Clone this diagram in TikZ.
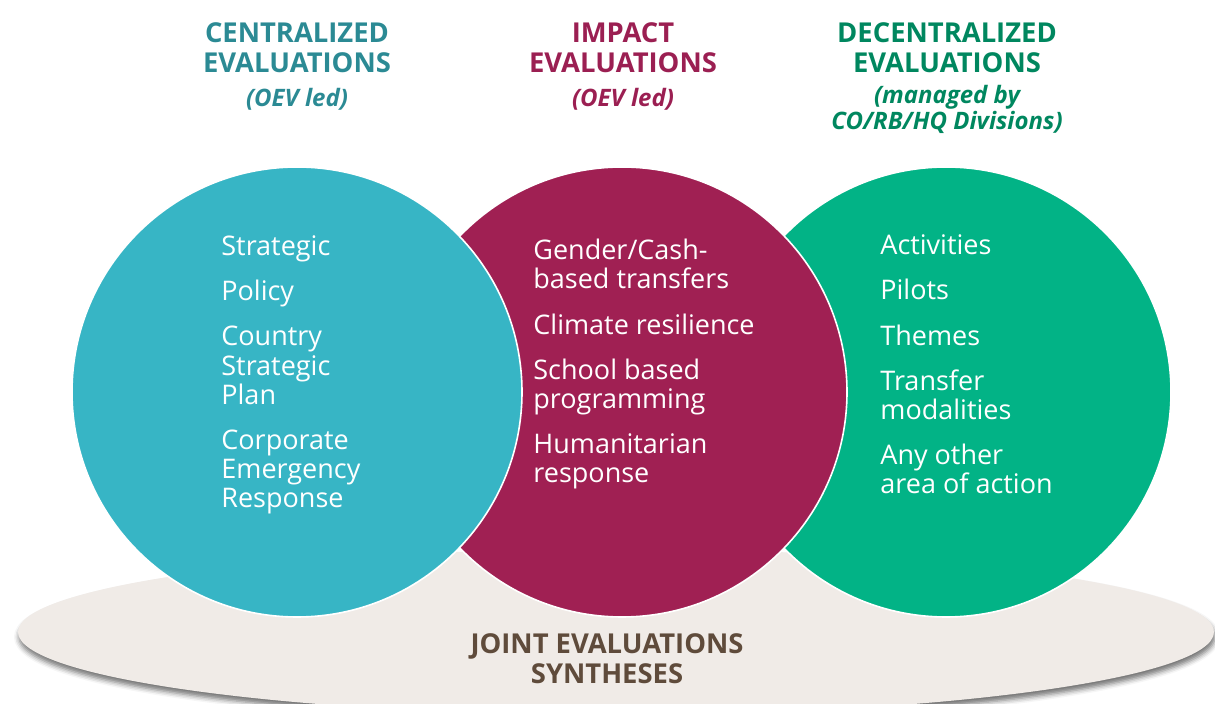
\documentclass[tikz,border=0pt]{standalone}
\usepackage{fontspec}
\setmainfont{Open Sans}
\usepackage{tikz}
\usetikzlibrary{positioning,shapes.geometric,shadows.blur}
\tikzset{%
  disc/.style={circle,draw=white,line width=0.8pt,minimum size=225pt,inner sep=0pt},
  heading/.style={font=\fontsize{13.7}{15}\selectfont\bfseries,align=center,anchor=base,inner sep=0pt},
  subheading/.style={font=\fontsize{12}{11.7}\selectfont\bfseries\itshape,align=center,anchor=base,inner sep=0pt},
  items/.style={font=\fontsize{13.5}{14.6}\selectfont,text=white,align=left,anchor=base west,inner sep=0pt},
}
\definecolor{cteal}{HTML}{37B5C5}
\definecolor{cplum}{HTML}{A02053}
\definecolor{cgreen}{HTML}{02B386}
\definecolor{tteal}{HTML}{2B8A94}
\definecolor{tplum}{HTML}{9B1F52}
\definecolor{tgreen}{HTML}{00875F}
\definecolor{sand}{HTML}{F0EBE7}
\definecolor{sandtext}{HTML}{5F4B3B}
\newcommand{\itemgap}{8pt}

\begin{document}
\begin{tikzpicture}[x=0.5pt,y=-0.5pt]
  \useasboundingbox (0,0) rectangle (1215,704);
  \node[ellipse,fill=sand,minimum width=598pt,minimum height=83pt,inner sep=0pt,
        blur shadow={shadow xshift=0.5pt,shadow yshift=-2.5pt,shadow blur radius=2.5pt,shadow opacity=55}]
        (joint) at (616,632) {};

  \node[disc,fill=cgreen] (decentral) at (946,392) {};
  \node[disc,fill=cplum] (impact) at (622,392) {};
  \node[disc,fill=cteal] (central) at (297,392) {};

  % multi-line nodes sit on the baseline of their last line
  \node[heading,text=tteal] (centtitle) at (297,73) {CENTRALIZED\\EVALUATIONS};
  \node[subheading,text=tteal] (centsub) at (297,107) {(OEV led)};
  \node[heading,text=tplum] (imptitle) at (623,73) {IMPACT\\EVALUATIONS};
  \node[subheading,text=tplum] (impsub) at (623,107) {(OEV led)};
  \node[heading,text=tgreen] (dectitle) at (947,73) {DECENTRALIZED\\EVALUATIONS};
  \node[subheading,text=tgreen] (decsub) at (947,130) {(managed by\\CO/RB/HQ Divisions)};

  \node[items] (centitems) at (221,508)
    {Strategic\\[\itemgap]Policy\\[\itemgap]Country\\Strategic\\Plan\\[\itemgap]Corporate\\Emergency\\Response};
  \node[items] (impitems) at (533,483)
    {Gender/Cash-\\based transfers\\[\itemgap]Climate resilience\\[\itemgap]School based\\programming\\[\itemgap]Humanitarian\\response};
  \node[items] (decitems) at (880,494)
    {Activities\\[\itemgap]Pilots\\[\itemgap]Themes\\[\itemgap]Transfer\\modalities\\[\itemgap]Any other\\area of action};

  \node[heading,text=sandtext] (jointlabel) at (607,683) {JOINT EVALUATIONS\\SYNTHESES};
\end{tikzpicture}
\end{document}
